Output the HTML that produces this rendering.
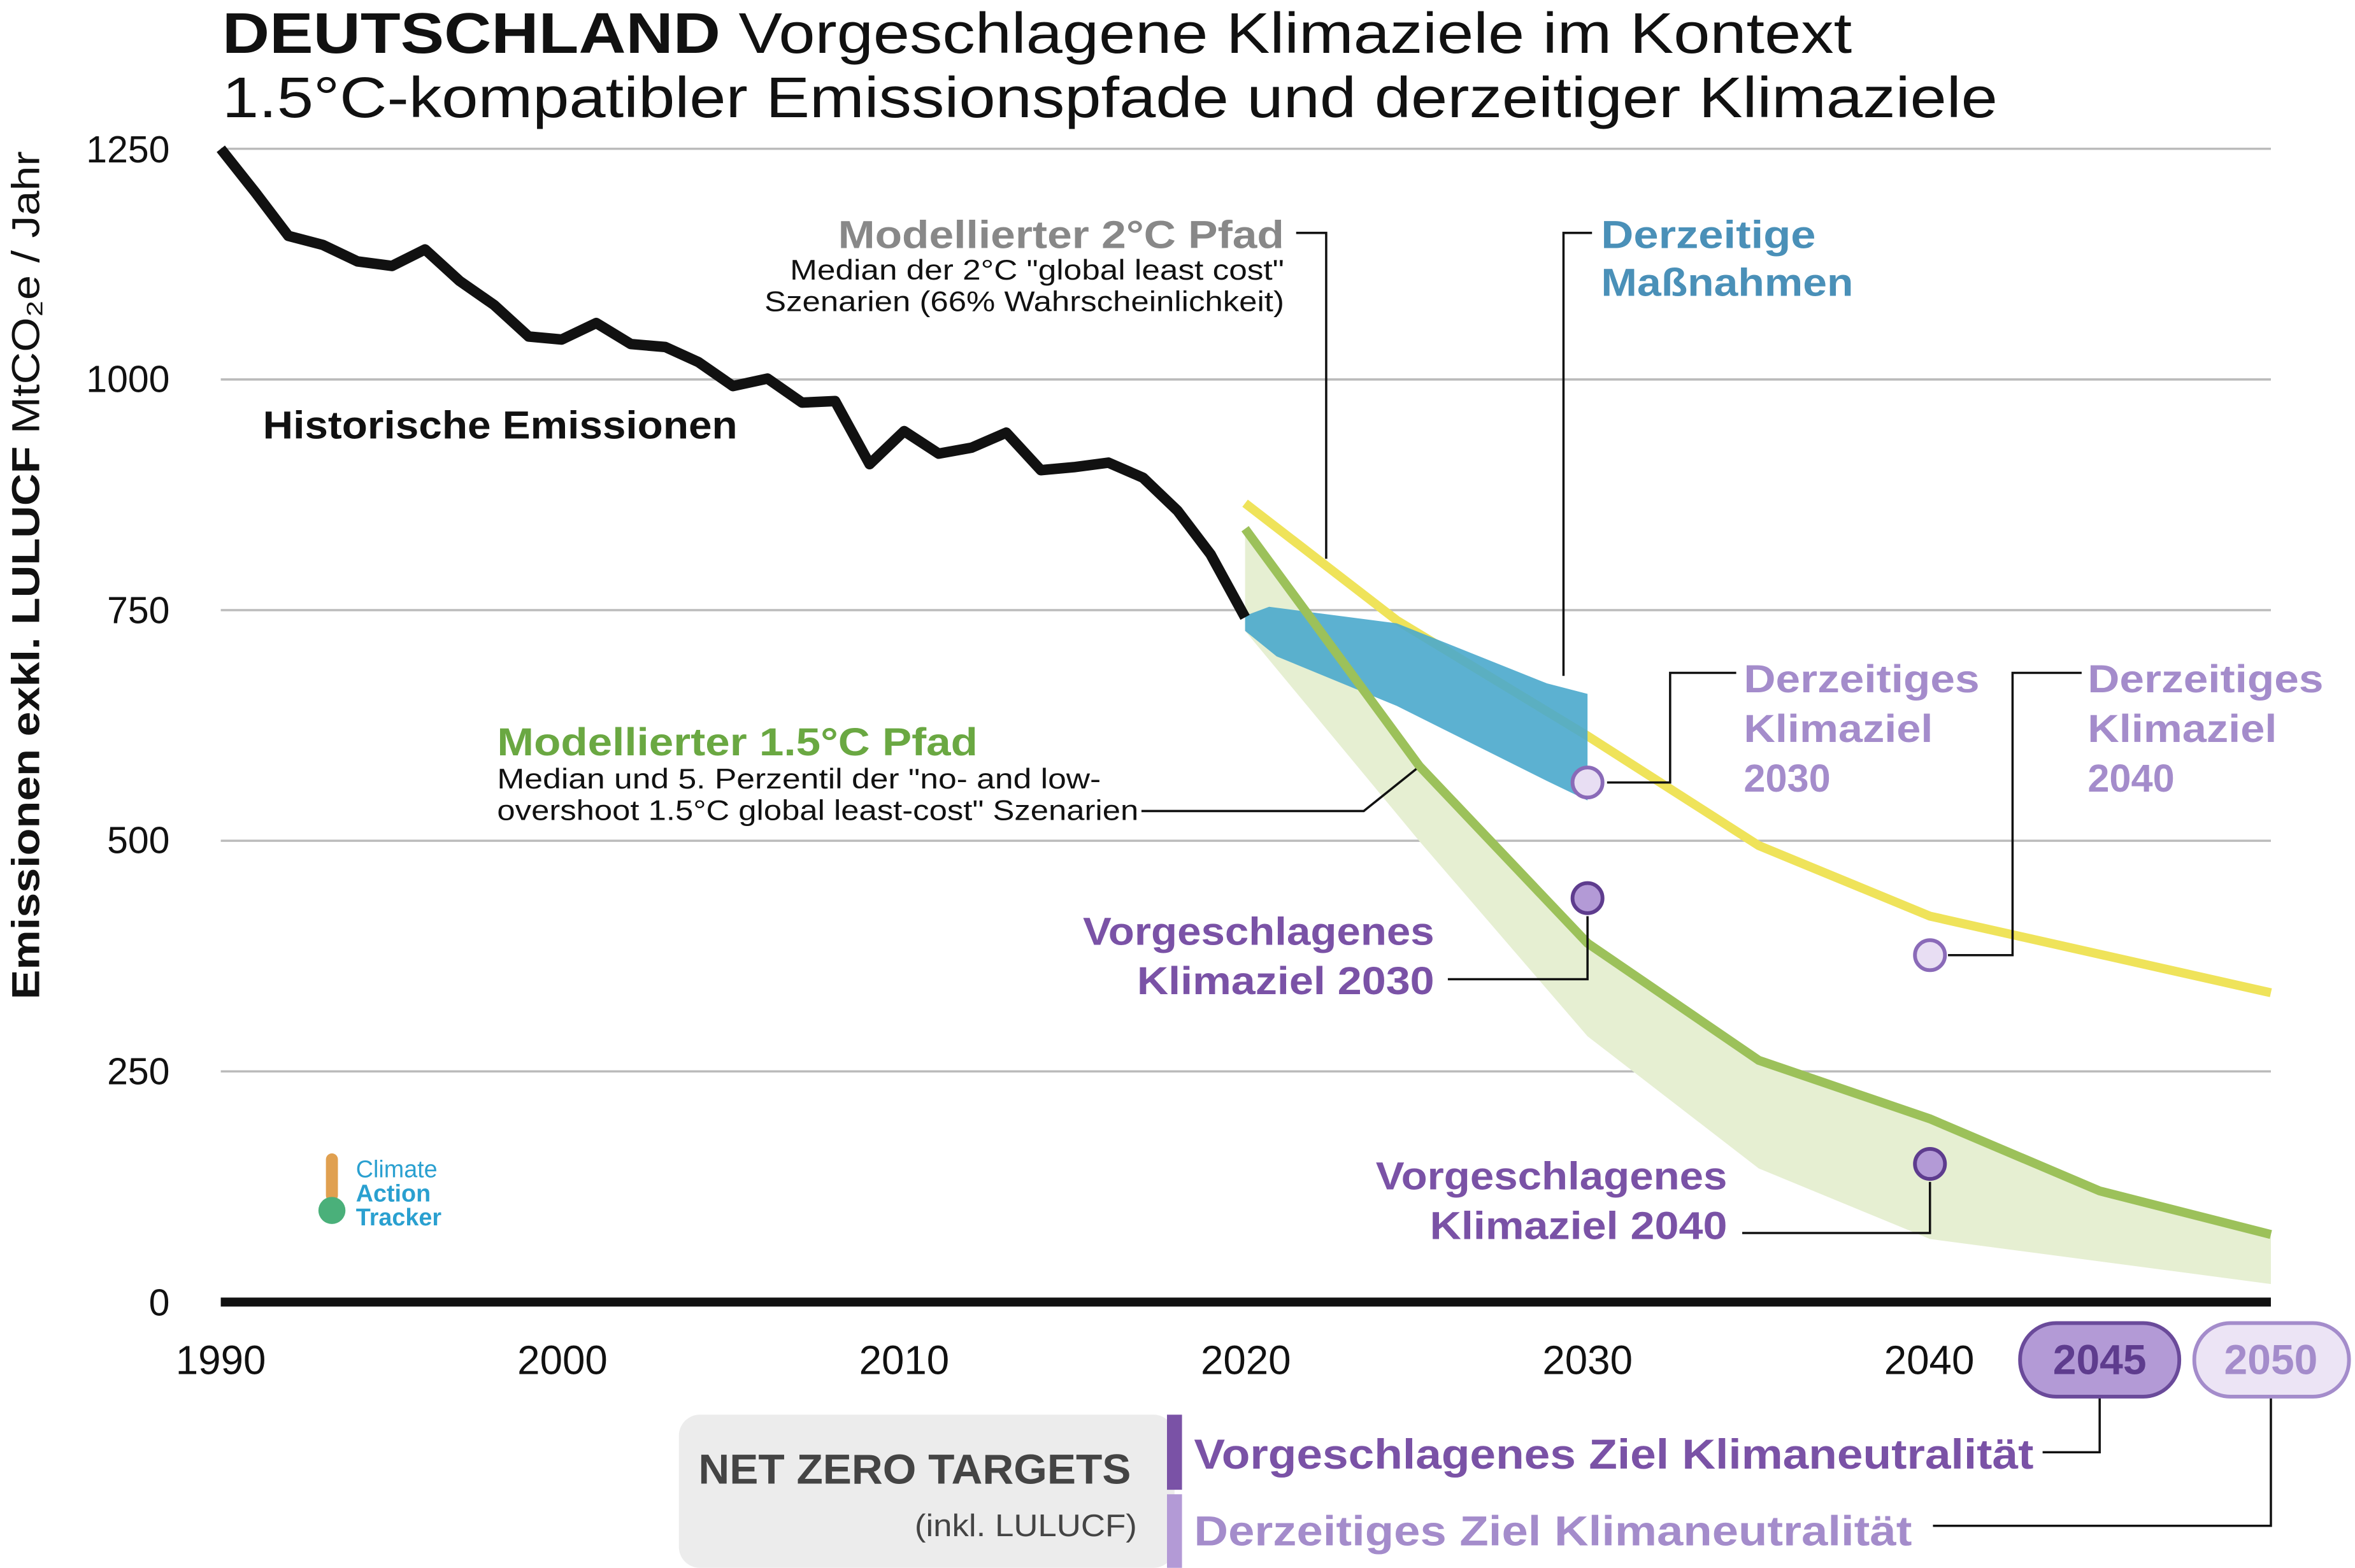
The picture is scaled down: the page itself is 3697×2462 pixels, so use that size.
<!DOCTYPE html>
<html><head><meta charset="utf-8"><style>html,body{margin:0;padding:0;background:#fff}svg{display:block}</style></head><body>
<svg width="3697" height="2462" viewBox="0 0 1568 1044" xmlns="http://www.w3.org/2000/svg" font-family="'Liberation Sans', 'DejaVu Sans', sans-serif">
<rect width="1568" height="1044" fill="#fff"/>
<text x="148" y="35" font-size="38" fill="#111" textLength="1085" lengthAdjust="spacingAndGlyphs"><tspan font-weight="bold">DEUTSCHLAND</tspan> Vorgeschlagene Klimaziele im Kontext</text>
<text x="148" y="78" font-size="38" fill="#111" textLength="1182" lengthAdjust="spacingAndGlyphs">1.5°C-kompatibler Emissionspfade und derzeitiger Klimaziele</text>
<g stroke="#bbb" stroke-width="1.5">
<line x1="147" y1="99" x2="1512" y2="99"/><line x1="147" y1="252.6" x2="1512" y2="252.6"/><line x1="147" y1="406.2" x2="1512" y2="406.2"/><line x1="147" y1="559.8" x2="1512" y2="559.8"/><line x1="147" y1="713.4" x2="1512" y2="713.4"/>
</g>
<g font-size="25" fill="#111" text-anchor="end">
<text x="113" y="108">1250</text><text x="113" y="261">1000</text><text x="113" y="415">750</text><text x="113" y="568">500</text><text x="113" y="722">250</text><text x="113" y="876">0</text>
</g>
<text transform="translate(26,383) rotate(-90)" font-size="26" text-anchor="middle" fill="#111" textLength="565" lengthAdjust="spacingAndGlyphs"><tspan font-weight="bold">Emissionen exkl. LULUCF</tspan> MtCO₂e / Jahr</text>
<g font-size="27" fill="#111" text-anchor="middle">
<text x="147" y="915">1990</text><text x="374.5" y="915">2000</text><text x="602" y="915">2010</text><text x="829.5" y="915">2020</text><text x="1057" y="915">2030</text><text x="1284.5" y="915">2040</text>
</g>
<polygon points="829,352 945,510 1057,628 1171,706 1285,745 1398,793 1512,822 1512,855 1285,825 1171,778 1057,690 945,560 829,420" fill="#e6efd2"/>
<polyline points="829,335 930,413 1057,490 1171,563 1285,610 1512,661" fill="none" stroke="#efe35a" stroke-width="6"/>
<polygon points="829,410 845,404 930,415 1030,455 1057,462 1057,533 1030,520 930,470 850,437 829,420" fill="#4aa8cc" opacity="0.9"/>
<polyline points="829,352 945,510 1057,628 1171,706 1285,745 1398,793 1512,822" fill="none" stroke="#9cc15a" stroke-width="6"/>
<polyline points="147,99 170,128 192,157 215,163 238,174 261,177 283,166 306,187 329,203 352,224 374,226 397,215 420,229 443,231 465,241 488,257 511,252 534,268 556,267 579,309 602,287 625,302 647,298 670,288 693,313 715,311 738,308 761,318 784,340 806,369 829,411" fill="none" stroke="#111" stroke-width="7" stroke-linejoin="round"/>
<line x1="147" y1="867" x2="1512" y2="867" stroke="#111" stroke-width="6"/>
<text x="175" y="292" font-size="26" font-weight="bold" fill="#111" textLength="316" lengthAdjust="spacingAndGlyphs">Historische Emissionen</text>
<g fill="none" stroke="#111" stroke-width="1.5">
<polyline points="863,155 883,155 883,372"/>
<polyline points="1060,155 1041,155 1041,450"/>
<polyline points="760,540 908,540 943,512"/>
<polyline points="964,652 1057,652 1057,610"/>
<polyline points="1160,821 1285,821 1285,787"/>
<polyline points="1070,521 1112,521 1112,448 1156,448"/>
<polyline points="1297,636 1340,636 1340,448 1386,448"/>
<polyline points="1360,967 1398,967 1398,930"/>
<polyline points="1287,1016 1512,1016 1512,930"/>
</g>
<text x="855" y="165" font-size="26" font-weight="bold" fill="#888" text-anchor="end" textLength="297" lengthAdjust="spacingAndGlyphs">Modellierter 2°C Pfad</text>
<text x="855" y="186" font-size="19" fill="#111" text-anchor="end" textLength="329" lengthAdjust="spacingAndGlyphs">Median der 2°C "global least cost"</text>
<text x="855" y="207" font-size="19" fill="#111" text-anchor="end" textLength="346" lengthAdjust="spacingAndGlyphs">Szenarien (66% Wahrscheinlichkeit)</text>
<text x="1066" y="165" font-size="26" font-weight="bold" fill="#4a90b8" textLength="143" lengthAdjust="spacingAndGlyphs">Derzeitige</text>
<text x="1066" y="197" font-size="26" font-weight="bold" fill="#4a90b8" textLength="168" lengthAdjust="spacingAndGlyphs">Maßnahmen</text>
<text x="331" y="503" font-size="26" font-weight="bold" fill="#6aa842" textLength="320" lengthAdjust="spacingAndGlyphs">Modellierter 1.5°C Pfad</text>
<text x="331" y="525" font-size="19" fill="#111" textLength="402" lengthAdjust="spacingAndGlyphs">Median und 5. Perzentil der "no- and low-</text>
<text x="331" y="546" font-size="19" fill="#111" textLength="427" lengthAdjust="spacingAndGlyphs">overshoot 1.5°C global least-cost" Szenarien</text>
<g font-size="26" font-weight="bold" fill="#a48ccb">
<text x="1161" y="461" textLength="157" lengthAdjust="spacingAndGlyphs">Derzeitiges</text><text x="1161" y="494" textLength="126" lengthAdjust="spacingAndGlyphs">Klimaziel</text><text x="1161" y="527">2030</text>
<text x="1390" y="461" textLength="157" lengthAdjust="spacingAndGlyphs">Derzeitiges</text><text x="1390" y="494" textLength="126" lengthAdjust="spacingAndGlyphs">Klimaziel</text><text x="1390" y="527">2040</text>
</g>
<g font-size="26" font-weight="bold" fill="#7a52a6" text-anchor="end">
<text x="955" y="629" textLength="234" lengthAdjust="spacingAndGlyphs">Vorgeschlagenes</text><text x="955" y="662" textLength="198" lengthAdjust="spacingAndGlyphs">Klimaziel 2030</text>
<text x="1150" y="792" textLength="234" lengthAdjust="spacingAndGlyphs">Vorgeschlagenes</text><text x="1150" y="825" textLength="198" lengthAdjust="spacingAndGlyphs">Klimaziel 2040</text>
</g>
<g stroke-width="2.5">
<circle cx="1057" cy="521" r="10" fill="#e8def3" stroke="#8a6ab8"/>
<circle cx="1057" cy="598" r="10" fill="#b39ad6" stroke="#5e3c8e"/>
<circle cx="1285" cy="636" r="10" fill="#e8def3" stroke="#8a6ab8"/>
<circle cx="1285" cy="775" r="10" fill="#b39ad6" stroke="#5e3c8e"/>
</g>
<rect x="1345" y="881" width="106" height="49" rx="24" fill="#b39ad6" stroke="#6a4a9a" stroke-width="2.5"/>
<text x="1398" y="915" font-size="28" font-weight="bold" fill="#5e3c8e" text-anchor="middle">2045</text>
<rect x="1461" y="881" width="103" height="49" rx="24" fill="#ece4f5" stroke="#a48ccb" stroke-width="2.5"/>
<text x="1512" y="915" font-size="28" font-weight="bold" fill="#a48ccb" text-anchor="middle">2050</text>
<rect x="452" y="942" width="330" height="102" rx="14" fill="#ececec"/>
<text x="465" y="988" font-size="28" font-weight="bold" fill="#444" textLength="288" lengthAdjust="spacingAndGlyphs">NET ZERO TARGETS</text>
<text x="757" y="1023" font-size="21" fill="#444" text-anchor="end" textLength="148" lengthAdjust="spacingAndGlyphs">(inkl. LULUCF)</text>
<rect x="777" y="942" width="10" height="50" fill="#7a52a6"/>
<rect x="777" y="995" width="10" height="49" fill="#b39ad6"/>
<text x="795" y="978" font-size="28" font-weight="bold" fill="#7a52a6" textLength="559" lengthAdjust="spacingAndGlyphs">Vorgeschlagenes Ziel Klimaneutralität</text>
<text x="795" y="1029" font-size="28" font-weight="bold" fill="#a48ccb" textLength="478" lengthAdjust="spacingAndGlyphs">Derzeitiges Ziel Klimaneutralität</text>
<rect x="217" y="768" width="8" height="32" rx="4" fill="#e0a050"/>
<circle cx="221" cy="806" r="9" fill="#4ab07a"/>
<g font-size="16" fill="#2aa0d0"><text x="237" y="784">Climate</text><text x="237" y="800" font-weight="bold">Action</text><text x="237" y="816" font-weight="bold">Tracker</text></g>
</svg>
</body></html>
